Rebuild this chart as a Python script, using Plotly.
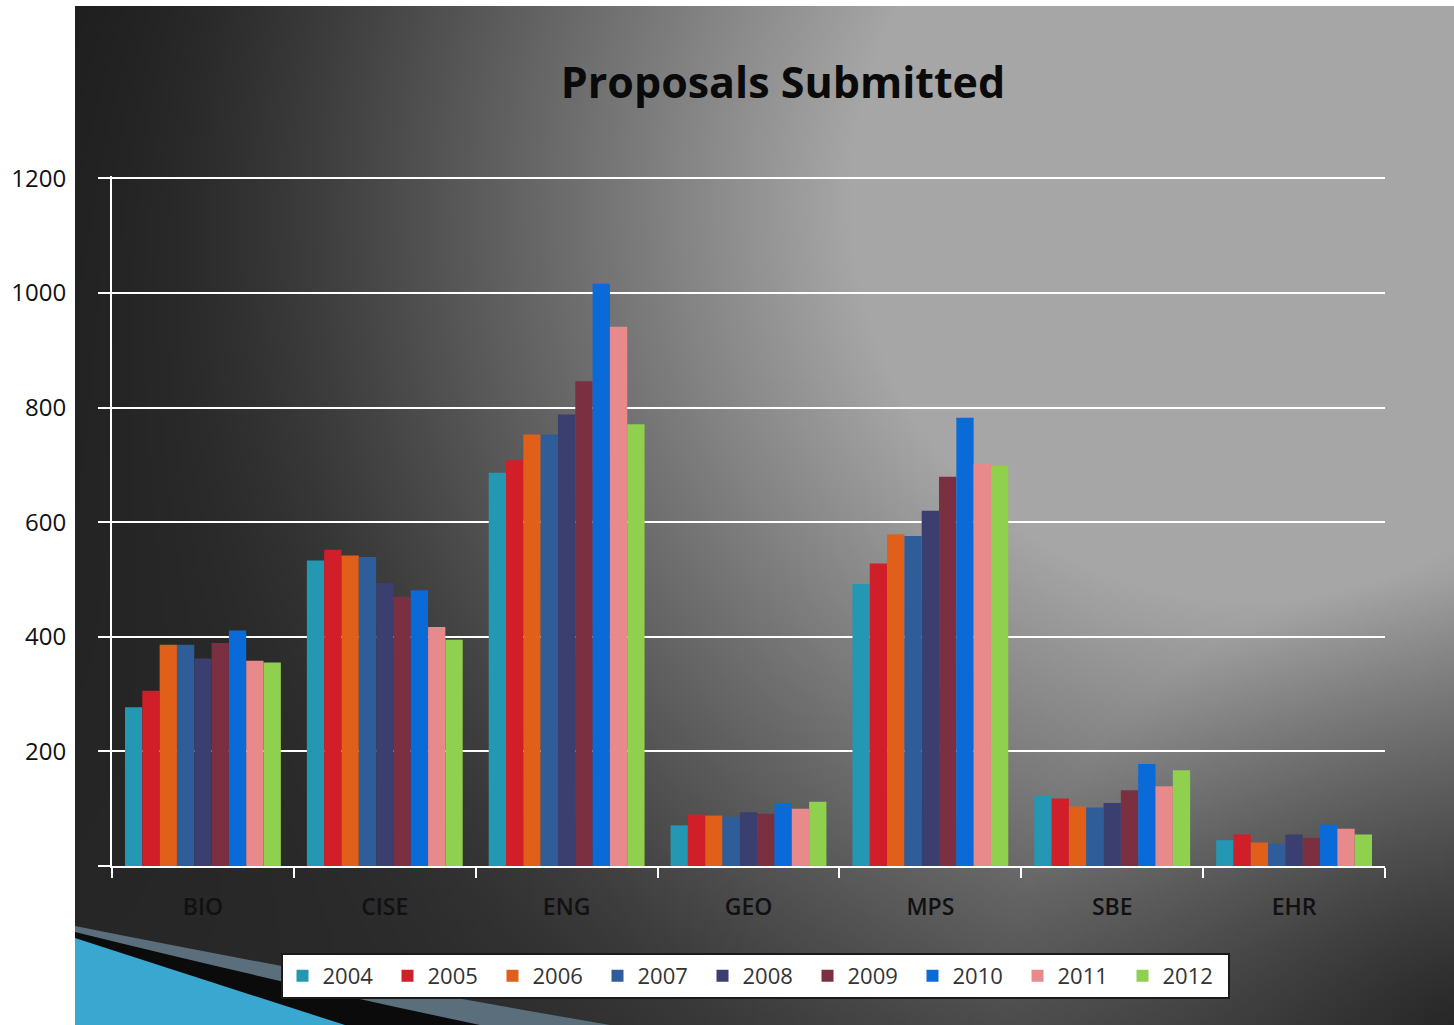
import base64, struct, zlib, math
import plotly.graph_objects as go

# ---------------- data ----------------
categories = ["BIO", "CISE", "ENG", "GEO", "MPS", "SBE", "EHR"]
years = ["2004", "2005", "2006", "2007", "2008", "2009", "2010", "2011", "2012"]
v2004 = [277, 533, 686, 71, 492, 122, 45]
v2005 = [306, 552, 708, 90, 528, 118, 55]
v2006 = [386, 542, 753, 88, 579, 104, 41]
v2007 = [386, 539, 753, 86, 576, 102, 39]
v2008 = [362, 494, 788, 94, 620, 110, 55]
v2009 = [389, 470, 846, 91, 679, 132, 49]
v2010 = [411, 481, 1016, 110, 782, 178, 72]
v2011 = [358, 417, 941, 100, 702, 139, 65]
v2012 = [355, 395, 771, 112, 698, 167, 55]
series = [v2004, v2005, v2006, v2007, v2008, v2009, v2010, v2011, v2012]
colors = ["#2497b3", "#d11f2a", "#e0601a", "#2f5d99", "#3b3f70",
          "#7a3040", "#0a6ad8", "#e88a8c", "#8fd04e"]
y_ticks = [0, 200, 400, 600, 800, 1000, 1200]
y_ticktext = ["", "200", "400", "600", "800", "1000", "1200"]

# ---------------- geometry ----------------
W, H = 1454, 1025
ML, MR, MT, MB = 112, 69, 176, 159
PW, PH = W - ML - MR, H - MT - MB
YMAX = 1204


def px(x):
    return (x - ML) / PW


def py(y):
    return (H - MB - y) / PH


# ---------------- background gradient (generated PNG) ----------------
BX0, BY0 = 75, 6
BW, BH = W - BX0, H - BY0
sw, sh = BW // 4, BH // 4


def shade(x, y):
    dx = (x - 1250) / 1000.0
    dy = (y - 200) / 1000.0
    t = math.sqrt(dx * dx + dy * dy)
    if t < 0.4:
        b = 172
    else:
        b = 172 - (t - 0.4) * 204
    floor = 30 + 14 * (y / 1025.0)
    # smooth maximum of b and floor
    b = (b + floor + math.sqrt((b - floor) ** 2 + 900)) / 2 - 7
    # dark vignette bottom-right corner
    d = math.hypot(x - 1454, y - 1025) / 450.0
    if d < 1:
        b *= 0.5 + 0.5 * d
    return int(max(18, min(175, b)))


rows = []
for j in range(sh):
    yy = BY0 + (j + 0.5) * BH / sh
    row = bytearray([0])
    for i in range(sw):
        xx = BX0 + (i + 0.5) * BW / sw
        v = shade(xx, yy)
        row += bytes((v, v, v))
    rows.append(bytes(row))
raw = b"".join(rows)


def chunk(tag, data):
    c = struct.pack(">I", len(data)) + tag + data
    return c + struct.pack(">I", zlib.crc32(tag + data) & 0xFFFFFFFF)


png = b"\x89PNG\r\n\x1a\n" + chunk(b"IHDR", struct.pack(">IIBBBBB", sw, sh, 8, 2, 0, 0, 0)) \
    + chunk(b"IDAT", zlib.compress(raw, 9)) + chunk(b"IEND", b"")
bg_uri = "data:image/png;base64," + base64.b64encode(png).decode()

# ---------------- figure ----------------
fig = go.Figure()
for name, vals, col in zip(years, series, colors):
    fig.add_trace(go.Bar(name=name, x=categories, y=vals,
                         marker=dict(color=col, line=dict(width=0))))


def path(pts_cmds):
    out = []
    for cmd, pts in pts_cmds:
        coords = " ".join(f"{px(x):.5f},{py(y):.5f}" for x, y in pts)
        out.append(f"{cmd}{coords}")
    return " ".join(out) + " Z"


shapes = [
    dict(type="path", xref="paper", yref="paper", layer="below",
         path=path([("M", [(75, 926)]), ("Q", [(320, 975), (610, 1025)]), ("L", [(75, 1025)])]),
         fillcolor="#5b6e7c", line=dict(width=0)),
    dict(type="path", xref="paper", yref="paper", layer="below",
         path=path([("M", [(75, 932)]), ("Q", [(290, 985), (480, 1025)]), ("L", [(75, 1025)])]),
         fillcolor="#0b0b0b", line=dict(width=0)),
    dict(type="path", xref="paper", yref="paper", layer="below",
         path=path([("M", [(75, 938)]), ("Q", [(220, 985), (345, 1025)]), ("L", [(75, 1025)])]),
         fillcolor="#3aa7d1", line=dict(width=0)),
]

fig.update_layout(
    width=W, height=H,
    margin=dict(l=ML, r=MR, t=MT, b=MB, pad=0, autoexpand=False),
    paper_bgcolor="white",
    plot_bgcolor="rgba(0,0,0,0)",
    barmode="group", bargap=0.143, bargroupgap=0,
    font=dict(family="Open Sans", color="#111"),
    title=dict(text="Proposals Submitted", x=px(783), xref="paper", xanchor="center",
               y=1 - 83 / H, yanchor="middle",
               font=dict(family="Open Sans", size=43, color="#0a0a0a", weight="bold")),
    images=[dict(source=bg_uri, xref="paper", yref="paper", x=px(BX0), y=py(BY0),
                 sizex=BW / PW, sizey=BH / PH, xanchor="left", yanchor="top",
                 sizing="stretch", layer="below")],
    shapes=shapes,
    showlegend=True,
    legend=dict(orientation="h", x=px(755), xanchor="center", y=py(953), yanchor="top",
                bgcolor="white", bordercolor="#1a1a1a", borderwidth=2,
                font=dict(family="Open Sans", size=22, color="#333"),
                entrywidth=60, traceorder="normal"),
)

fig.update_yaxes(range=[0, YMAX], tickvals=y_ticks, ticktext=y_ticktext,
                 showgrid=True, gridcolor="white", gridwidth=2,
                 showline=True, linecolor="white", linewidth=2,
                 ticks="outside", ticklen=12, tickcolor="white", tickwidth=2,
                 ticklabelstandoff=27, automargin=False,
                 tickfont=dict(family="Open Sans", size=24, color="#111"),
                 zeroline=False, fixedrange=True)
fig.update_xaxes(showline=True, linecolor="white", linewidth=2,
                 ticks="outside", ticklen=10, tickcolor="white", tickwidth=2,
                 tickson="boundaries", ticklabelstandoff=19, automargin=False,
                 tickfont=dict(family="Open Sans", size=23, color="#111", weight=600),
                 showgrid=False, fixedrange=True)

fig.write_html("out.html")
